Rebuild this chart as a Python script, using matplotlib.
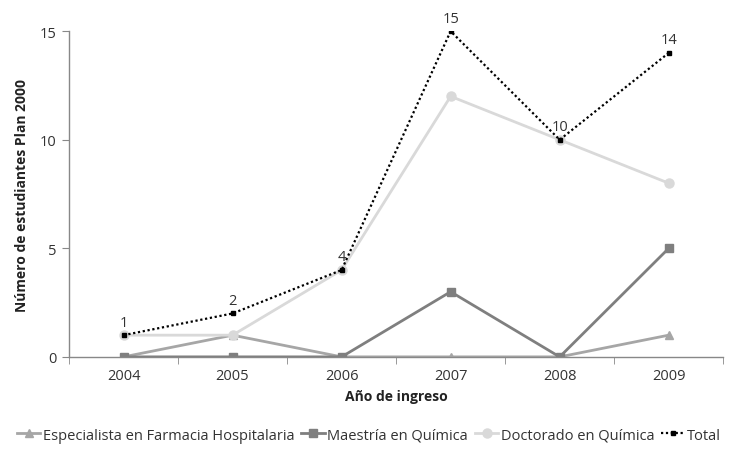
import matplotlib
matplotlib.use("Agg")
import matplotlib.pyplot as plt

plt.rcParams['font.family'] = ['Open Sans', 'DejaVu Sans']

# Datos
anios = ['2004', '2005', '2006', '2007', '2008', '2009']
especialista = [0, 1, 0, 0, 0, 1]
maestria = [0, 0, 0, 3, 0, 5]
doctorado = [1, 1, 4, 12, 10, 8]
total = [1, 2, 4, 15, 10, 14]

fig = plt.figure(figsize=(7.38, 4.6), dpi=100)
ax = fig.add_axes([0.0935, 0.222, 0.8865, 0.708])

x = [i + 0.5 for i in range(len(anios))]

ax.plot(x, especialista, color='#a6a6a6', lw=2, marker='^', ms=6,
        label='Especialista en Farmacia Hospitalaria')
ax.plot(x, maestria, color='#7f7f7f', lw=2, marker='s', ms=6,
        label='Maestría en Química')
ax.plot(x, doctorado, color='#d9d9d9', lw=2, marker='o', ms=6.5,
        label='Doctorado en Química')
ax.plot(x, total, color='black', lw=1.6, ls=(0, (1, 1.2)), marker='s', ms=3,
        label='Total')

# Etiquetas del total
for xi, v in zip(x, total):
    ax.annotate(str(v), (xi, v), xytext=(0, 4), textcoords='offset points',
                ha='center', va='bottom', fontsize=10.5, color='#333333')

ax.set_xlim(0, 6)
ax.set_ylim(0, 15)
ax.set_yticks([0, 5, 10, 15])
ax.set_xticks(x)
ax.set_xticklabels(anios)
ax.set_xticks(range(7), minor=True)
ax.tick_params(axis='x', which='major', length=0, labelsize=10.5, colors='#333333', pad=8)
ax.tick_params(axis='x', which='minor', length=5, color='#888888', direction='out')
ax.tick_params(axis='y', length=5, color='#888888', labelsize=10.5, labelcolor='#333333', pad=4)

for s in ['top', 'right']:
    ax.spines[s].set_visible(False)
for s in ['left', 'bottom']:
    ax.spines[s].set_color('#888888')
    ax.spines[s].set_linewidth(1)

ax.set_xlabel('Año de ingreso', fontsize=10, fontweight='bold', color='#222222', labelpad=4)
ax.set_ylabel('Número de estudiantes Plan 2000', fontsize=10, fontweight='bold', color='#222222', labelpad=8)

fig.legend(loc='center', bbox_to_anchor=(0.5, 0.052), ncol=4, frameon=False,
           fontsize=10.5, handlelength=1.6, handletextpad=0.15, columnspacing=0.5,
           labelcolor='#333333')

fig.savefig('out.png', dpi=100)
